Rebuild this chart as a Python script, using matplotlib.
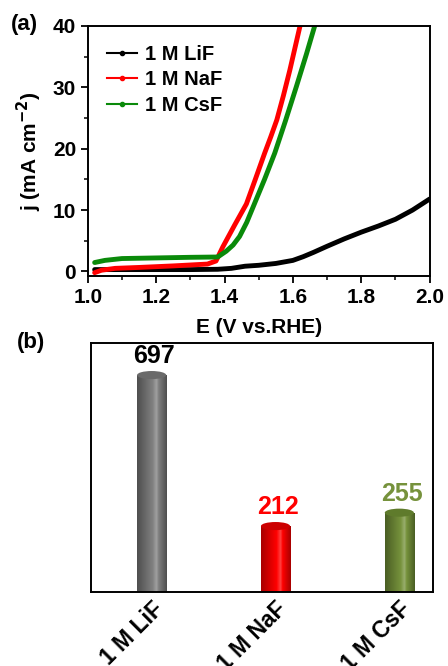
import numpy as np
import matplotlib
matplotlib.use("Agg")
import matplotlib.pyplot as plt
from matplotlib.patches import Ellipse
from matplotlib.lines import Line2D
from matplotlib.colors import LinearSegmentedColormap
from matplotlib.ticker import MultipleLocator

plt.rcParams['font.family'] = ['Liberation Sans', 'DejaVu Sans']
plt.rcParams['font.weight'] = 'bold'
plt.rcParams['mathtext.default'] = 'bf'

# (a) LSV curves
E_lif = [1.02, 1.1, 1.2, 1.3, 1.38, 1.42, 1.46, 1.5, 1.55, 1.6, 1.63, 1.66, 1.7, 1.75, 1.8, 1.85, 1.9, 1.95, 2.0]
j_lif = [0.3, 0.3, 0.3, 0.3, 0.35, 0.5, 0.85, 1.0, 1.3, 1.8, 2.4, 3.1, 4.1, 5.3, 6.4, 7.4, 8.5, 10.0, 11.8]

E_naf = [1.02, 1.04, 1.08, 1.15, 1.25, 1.35, 1.375, 1.395, 1.43, 1.464, 1.49, 1.5175, 1.535, 1.553, 1.572, 1.591, 1.625]
j_naf = [-0.2, 0.2, 0.5, 0.65, 0.9, 1.2, 1.7, 4.0, 7.6, 11.0, 15.0, 19.3, 21.9, 24.7, 28.6, 32.8, 41.0]

E_csf = [1.02, 1.05, 1.1, 1.2, 1.3, 1.38, 1.405, 1.425, 1.444, 1.465, 1.488, 1.517, 1.547, 1.578, 1.610, 1.64, 1.669]
j_csf = [1.45, 1.8, 2.1, 2.2, 2.3, 2.35, 3.3, 4.3, 5.7, 8.0, 11.1, 15.0, 19.3, 24.5, 30.1, 35.5, 41.0]

series_labels = ['1 M LiF', '1 M NaF', '1 M CsF']
line_colors = ['black', '#ff0000', '#0a8a0a']

# (b) bar values
bar_values = [697, 212, 255]
bar_colors = ['#808080', '#ff0000', '#76923c']
text_colors = ['black', '#ff0000', '#76923c']
edge_dark = ['#4e4e4e', '#a80000', '#4a5e24']
top_colors = ['#6a6a6a', '#cc0000', '#5f7b2c']

fig = plt.figure(figsize=(4.48, 6.66), dpi=100)

# ---- panel (a)
ax1 = fig.add_axes([0.196, 0.586, 0.763, 0.375])
for E, j, c in zip([E_lif, E_naf, E_csf], [j_lif, j_naf, j_csf], line_colors):
    ax1.plot(E, j, color=c, lw=3.5, solid_capstyle='round', solid_joinstyle='round')
ax1.set_xlim(1.0, 2.0)
ax1.set_ylim(-0.7, 40)
ax1.xaxis.set_major_locator(MultipleLocator(0.2))
ax1.xaxis.set_minor_locator(MultipleLocator(0.1))
ax1.yaxis.set_major_locator(MultipleLocator(10))
ax1.yaxis.set_minor_locator(MultipleLocator(5))
ax1.tick_params(which='major', length=5, width=1.3, labelsize=15)
ax1.tick_params(which='minor', length=3, width=1.1)
for s in ax1.spines.values():
    s.set_linewidth(1.4)
for lab in ax1.get_xticklabels() + ax1.get_yticklabels():
    lab.set_fontweight('bold')
ax1.set_xlabel('E (V vs.RHE)', fontsize=15, fontweight='bold', labelpad=8)
ax1.set_ylabel('j (mA cm$^{-2}$)', fontsize=15, fontweight='bold', labelpad=6)

handles = [Line2D([], [], color=c, lw=1.5, marker='o', markersize=3) for c in line_colors]
ax1.legend(handles, series_labels, loc='upper left', frameon=False,
           prop={'size': 14.5, 'weight': 'bold'}, handlelength=1.5,
           handletextpad=0.4, labelspacing=0.32, borderpad=0, borderaxespad=0,
           bbox_to_anchor=(0.055, 0.925))
fig.text(0.025, 0.955, '(a)', fontsize=16, fontweight='bold')

# ---- panel (b)
ax2 = fig.add_axes([0.203, 0.111, 0.763, 0.374])
x = np.arange(len(bar_values))
width = 0.235
bars = ax2.bar(x, bar_values, width=width, color=bar_colors, zorder=2)

grad = np.concatenate([np.linspace(0, 1, 65), np.linspace(1, 0, 35)])[None, :]
for i, b in enumerate(bars):
    cmap = LinearSegmentedColormap.from_list('cyl', [edge_dark[i], bar_colors[i], '#ffffff'])
    img = ax2.imshow(grad * 0.62, cmap=cmap, vmin=0, vmax=1, aspect='auto',
                     extent=[b.get_x(), b.get_x() + b.get_width(), 0, b.get_height()],
                     zorder=3)
    img.set_clip_path(b)
    top = Ellipse((b.get_x() + b.get_width() / 2, b.get_height()), b.get_width(), 26,
                  facecolor=top_colors[i], edgecolor='none', zorder=4)
    ax2.add_patch(top)
    ax2.annotate(str(bar_values[i]), (b.get_x() + b.get_width() / 2, b.get_height()),
                 xytext=(2, 5), textcoords='offset points', ha='center', va='bottom',
                 fontsize=18, fontweight='bold', color=text_colors[i])

ax2.set_xlim(-0.49, 2.27)
ax2.set_ylim(0, 800)
ax2.set_yticks([])
ax2.set_xticks(x)
ax2.set_xticklabels(series_labels, rotation=45, ha='right', va='top',
                    rotation_mode='anchor', fontsize=16.5, fontweight='bold')
ax2.tick_params(axis='x', length=0, pad=4)
for s in ax2.spines.values():
    s.set_linewidth(1.4)
    s.set_zorder(5)
fig.text(0.038, 0.478, '(b)', fontsize=16, fontweight='bold')

fig.savefig('out.png', dpi=100)
